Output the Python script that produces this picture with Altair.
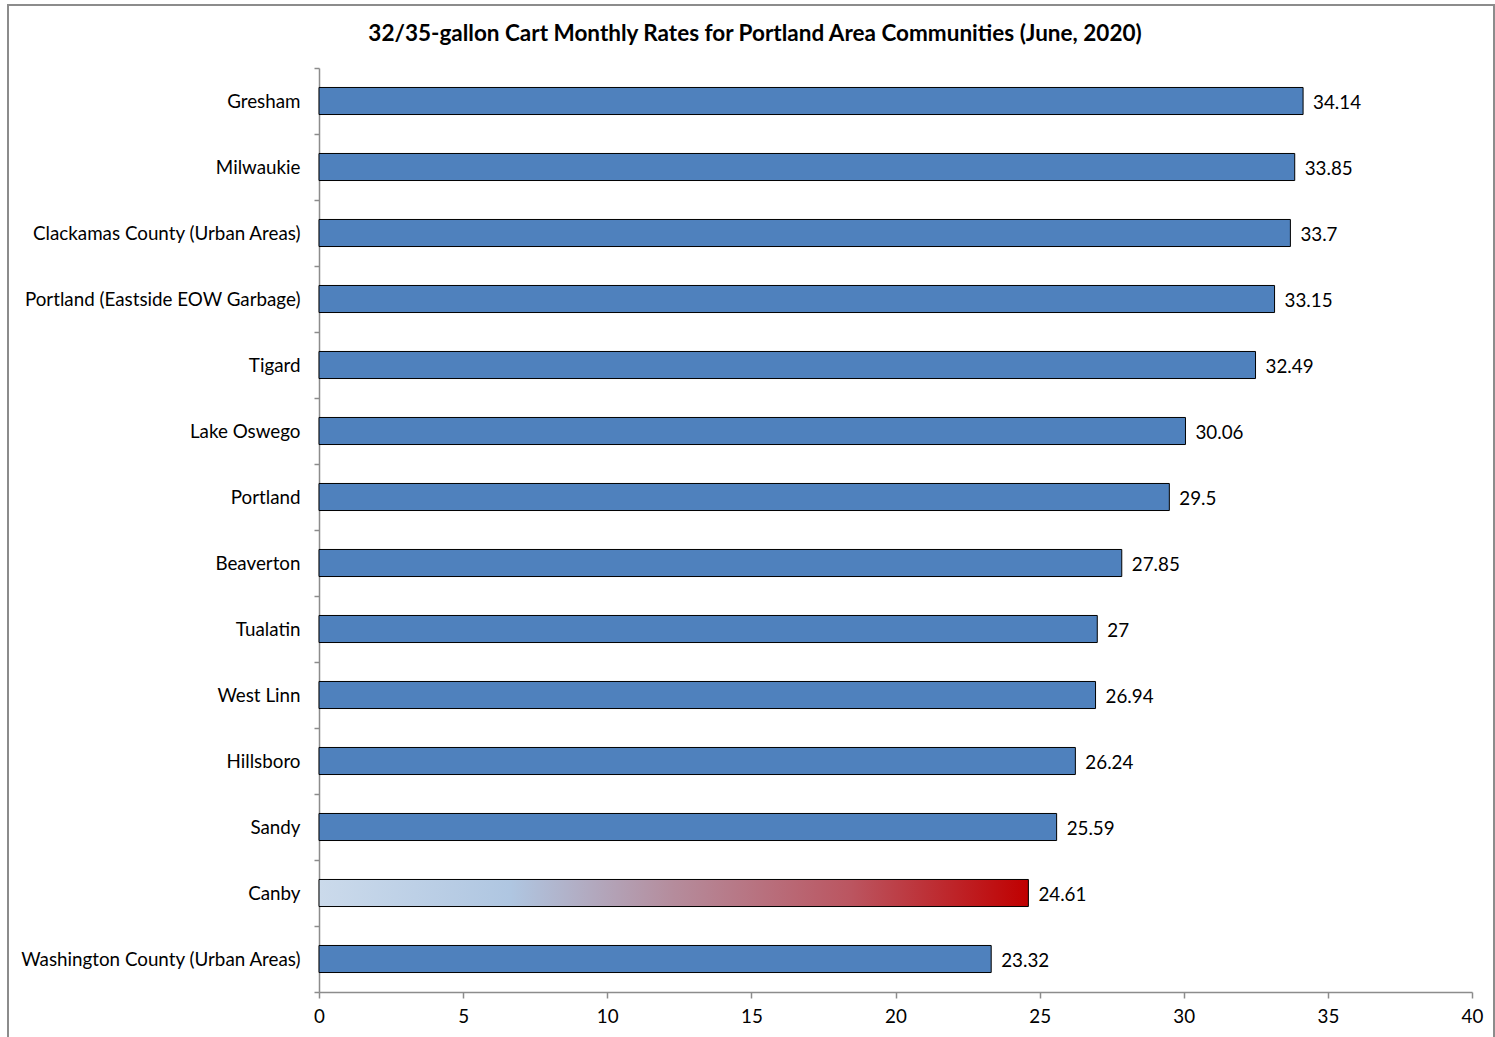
import altair as alt
import pandas as pd

communities = [
    "Gresham", "Milwaukie", "Clackamas County (Urban Areas)",
    "Portland (Eastside EOW Garbage)", "Tigard", "Lake Oswego", "Portland",
    "Beaverton", "Tualatin", "West Linn", "Hillsboro", "Sandy", "Canby",
    "Washington County (Urban Areas)",
]
rates = [34.14, 33.85, 33.7, 33.15, 32.49, 30.06, 29.5, 27.85, 27, 26.94,
         26.24, 25.59, 24.61, 23.32]
x_ticks = [0, 5, 10, 15, 20, 25, 30, 35, 40]
highlight = "Canby"
title_text = "32/35-gallon Cart Monthly Rates for Portland Area Communities (June, 2020)"

df = pd.DataFrame({"community": communities, "rate": rates})
df["label"] = [f"{v:g}" for v in rates]

FONT = "Lato"
FS = 18.8

y_enc = alt.Y(
    "community:N", sort=communities, title=None,
    scale=alt.Scale(paddingInner=0, paddingOuter=0),
    axis=alt.Axis(tickBand="extent", domainColor="#8c8c8c", tickColor="#8c8c8c",
                  tickSize=5, labelPadding=14, labelFontSize=FS, labelFont=FONT,
                  labelColor="#000000", domainWidth=1.5, tickWidth=1.5,
                  labelLimit=500),
)
x_enc = alt.X(
    "rate:Q", title=None,
    scale=alt.Scale(domain=[0, 40], nice=False),
    axis=alt.Axis(values=x_ticks, grid=False, domainColor="#8c8c8c",
                  tickColor="#8c8c8c", tickSize=6, labelPadding=9,
                  labelFontSize=FS, labelFont=FONT, labelColor="#000000",
                  domainWidth=1.5, tickWidth=1.5, labelFlush=False,
                  labelOverlap=False),
)

base = alt.Chart(df)
bar_h = alt.RelativeBandSize(0.41)

bars = base.transform_filter(alt.datum.community != highlight).mark_bar(
    color="#4f81bd", stroke="#000000", strokeWidth=1, height=bar_h
).encode(y=y_enc, x=x_enc)

grad = alt.LinearGradient(
    gradient="linear",
    stops=[
        alt.GradientStop(offset=0, color="#cbdaeb"),
        alt.GradientStop(offset=0.27, color="#afc6e1"),
        alt.GradientStop(offset=0.5, color="#b58c9c"),
        alt.GradientStop(offset=0.75, color="#bb5560"),
        alt.GradientStop(offset=1, color="#c00000"),
    ],
    x1=0, x2=1, y1=0, y2=0,
)

canby = base.transform_filter(alt.datum.community == highlight).mark_bar(
    color=grad, stroke="#000000", strokeWidth=1, height=bar_h
).encode(y=y_enc, x=x_enc)

labels = base.mark_text(
    align="left", baseline="middle", dx=10, dy=2, fontSize=FS, font=FONT,
    color="#000000"
).encode(y=alt.Y("community:N", sort=communities), x="rate:Q", text="label:N")

frame = alt.Chart(pd.DataFrame({"a": [0]})).mark_rect(
    fill=None, stroke="#8c8c8c", strokeWidth=2
).encode(
    x=alt.value(-311), x2=alt.value(1175), y=alt.value(-63), y2=alt.value(985)
)

title = alt.Chart(pd.DataFrame({"t": [title_text]})).mark_text(
    font=FONT, fontSize=22.5, fontWeight="bold", color="#000000",
    align="center", baseline="middle"
).encode(x=alt.value(436), y=alt.value(-34), text="t:N")

chart = alt.layer(frame, bars, canby, labels, title).properties(
    width=1153, height=924,
    background="#ffffff",
    autosize=alt.AutoSizeParams(type="none"),
    padding={"left": 319, "top": 68, "right": 23, "bottom": 45},
).configure_view(strokeWidth=0, stroke="transparent")

chart.save("out.html", embed_options={"renderer": "svg", "actions": False})
